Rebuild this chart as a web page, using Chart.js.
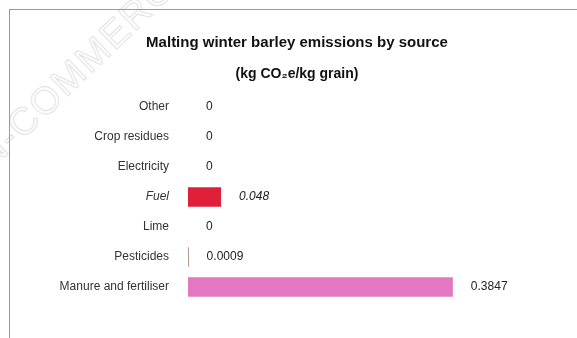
<!DOCTYPE html>
<html>
<head>
<meta charset="utf-8">
<title>Malting winter barley emissions</title>
<script src="https://cdn.jsdelivr.net/npm/chart.js@4"></script>
<style>
  body { margin: 0; background: #fff; font-family: "Liberation Sans", Arial, sans-serif; }
  #mark {
    position: absolute; left: -77px; top: 189px;
    font: 38px "Liberation Sans", Arial, sans-serif;
    color: transparent; -webkit-text-stroke: 1px #e3e3e3;
    transform: rotate(-44deg); transform-origin: 0 0;
    white-space: nowrap; letter-spacing: 2px;
  }
  #frame {
    position: absolute; left: 9px; top: 9px; width: 620px; height: 340px;
    border-top: 1px solid #9a9a9a; border-left: 1px solid #9a9a9a;
  }
  #box { position: absolute; left: 10px; top: 10px; width: 567px; height: 328px; }
</style>
</head>
<body>
<div id="mark">NON-COMMERCIAL</div>
<div id="frame"></div>
<div id="box"><canvas id="myChart"></canvas></div>
<script>
// Emission sources (kg CO2e per kg grain)
const sources = ["Other", "Crop residues", "Electricity", "Fuel", "Lime", "Pesticides", "Manure and fertiliser"];
const emissions = [0, 0, 0, 0.048, 0, 0.0009, 0.3847];
const valueLabels = ["0", "0", "0", "0.048", "0", "0.0009", "0.3847"];
const barColors = ["#1f77b4", "#ff7f0e", "#2ca02c", "#e0203a", "#9467bd", "#8c564b", "#e377c2"];

// Writes the value just right of each bar end
const valueText = {
  id: 'valueText',
  afterDatasetsDraw(chart) {
    const ctx = chart.ctx;
    const meta = chart.getDatasetMeta(0);
    ctx.save();
    ctx.textAlign = 'left';
    ctx.textBaseline = 'middle';
    ctx.fillStyle = '#222';
    meta.data.forEach((bar, i) => {
      ctx.font = (sources[i] === "Fuel" ? 'italic ' : '') + '12px "Liberation Sans", Arial, sans-serif';
      ctx.fillText(valueLabels[i], bar.x + 18, bar.y);
    });
    ctx.restore();
  }
};

const myChart = document.getElementById("myChart");

let barChart = new Chart(myChart, {
  type: 'bar',
  data: {
    labels: sources,
    datasets: [{
      data: emissions,
      backgroundColor: barColors,
      borderWidth: 0,
      categoryPercentage: 1,
      barPercentage: 0.65
    }]
  },
  options: {
    indexAxis: 'y',
    responsive: true,
    maintainAspectRatio: false,
    animation: false,
    layout: { padding: { left: 7, right: 0, top: 0, bottom: 36 } },
    plugins: {
      legend: { display: false },
      tooltip: { enabled: false },
      title: {
        display: true,
        text: 'Malting winter barley emissions by source',
        color: '#111',
        font: { family: '"Liberation Sans", Arial, sans-serif', size: 15, weight: 'bold' },
        padding: { top: 24, bottom: 0 }
      },
      subtitle: {
        display: true,
        text: '(kg CO₂e/kg grain)',
        color: '#111',
        font: { family: '"Liberation Sans", Arial, sans-serif', size: 14, weight: 'bold' },
        padding: { top: 14, bottom: 9 }
      }
    },
    scales: {
      x: {
        display: false,
        min: 0,
        max: 0.565
      },
      y: {
        grid: { display: false },
        border: { display: false },
        afterFit(scale) { scale.width = 171; },
        ticks: {
          padding: 11,
          color: '#333',
          font: (c) => ({
            family: '"Liberation Sans", Arial, sans-serif',
            size: 12,
            style: sources[c.index] === "Fuel" ? 'italic' : 'normal'
          })
        }
      }
    }
  },
  plugins: [valueText]
});
</script>
</body>
</html>
